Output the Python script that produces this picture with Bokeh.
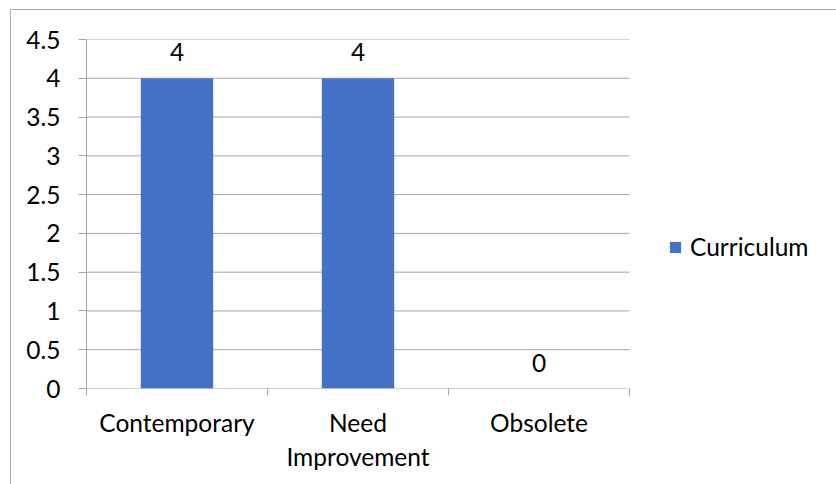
from bokeh.plotting import figure
from bokeh.models import (Range1d, FixedTicker, Legend, LegendItem, ColumnDataSource)
from bokeh.core.properties import value
from bokeh.embed import file_html
from bokeh.resources import INLINE

categories = ["Contemporary", "Need\nImprovement", "Obsolete"]
series_name = "Curriculum"
values = [4, 4, 0]
y_ticks = [0, 0.5, 1, 1.5, 2, 2.5, 3, 3.5, 4, 4.5]
y_tick_labels = ["0", "0.5", "1", "1.5", "2", "2.5", "3", "3.5", "4", "4.5"]

FONT = "Lato"
FS = "24.5px"
GRID = "#a6a6a6"
BAR = "#4472C4"
BORDER = "#b0b0b0"

n = len(categories)
xpos = [i + 0.5 for i in range(n)]

# plot area: categories occupy 543px (86..629); frame extends to 830 to host the legend
PX_PER_CAT = 181.0
FRAME_LEFT, FRAME_RIGHT = 86, 830
x_end = (FRAME_RIGHT - FRAME_LEFT) / PX_PER_CAT

p = figure(width=836, height=484, output_backend="svg", toolbar_location=None,
           x_range=Range1d(0, x_end), y_range=Range1d(0, 4.5),
           min_border_left=FRAME_LEFT, min_border_right=836 - FRAME_RIGHT,
           min_border_top=39, min_border_bottom=96)
p.outline_line_color = None
p.background_fill_color = "white"
p.border_fill_color = None
p.styles = {
    "background-color": "white",
    "background-image": f"linear-gradient({BORDER},{BORDER}), linear-gradient({BORDER},{BORDER})",
    "background-size": "calc(100% - 10px) 1px, 1px calc(100% - 9px)",
    "background-position": "10px 9px, 10px 9px",
    "background-repeat": "no-repeat",
}

# gridlines limited to the category area
p.segment(x0=[0] * len(y_ticks), x1=[n] * len(y_ticks), y0=y_ticks, y1=y_ticks,
          line_color=GRID, line_width=1)

src = ColumnDataSource(dict(x=xpos, top=values, lab=[str(v) for v in values]))
bars = p.vbar(x="x", top="top", width=0.4, source=src, fill_color=BAR,
              line_color=None)

p.text(x="x", y="top", text="lab", source=src, text_align="center",
       text_baseline="alphabetic", y_offset=-26, text_font=value(FONT),
       text_font_size=FS, text_color="#000000")

# x axis
p.xaxis.ticker = FixedTicker(ticks=xpos, minor_ticks=list(range(n + 1)))
p.xaxis.major_label_overrides = {x: c for x, c in zip(xpos, categories)}
p.xaxis.major_tick_line_color = None
p.xaxis.major_tick_out = 0
p.xaxis.major_tick_in = 0
p.xaxis.minor_tick_line_color = GRID
p.xaxis.minor_tick_out = 7
p.xaxis.minor_tick_in = 0
p.xaxis.axis_line_color = None
p.xaxis.major_label_standoff = 12
p.xaxis.major_label_text_font = FONT
p.xaxis.major_label_text_font_size = FS
p.xaxis.major_label_text_color = "#000000"
p.xgrid.grid_line_color = None

# y axis
p.yaxis.ticker = FixedTicker(ticks=y_ticks, minor_ticks=[])
p.yaxis.major_label_overrides = {t: l for t, l in zip(y_ticks, y_tick_labels)}
p.yaxis.major_tick_line_color = GRID
p.yaxis.major_tick_out = 8
p.yaxis.major_tick_in = 0
p.yaxis.axis_line_color = GRID
p.yaxis.major_label_standoff = 18
p.yaxis.major_label_text_font = FONT
p.yaxis.major_label_text_font_size = FS
p.yaxis.major_label_text_color = "#000000"
p.ygrid.grid_line_color = None

legend = Legend(items=[LegendItem(label=series_name, renderers=[bars])],
                location=(582, 127), padding=0, margin=0, spacing=0,
                glyph_width=14, glyph_height=14, label_height=26,
                label_standoff=8, border_line_color=None,
                background_fill_alpha=0, label_text_font=FONT,
                label_text_font_size=FS, label_text_color="#000000")
p.add_layout(legend, "center")

open("out.html", "w").write(file_html(p, INLINE))
